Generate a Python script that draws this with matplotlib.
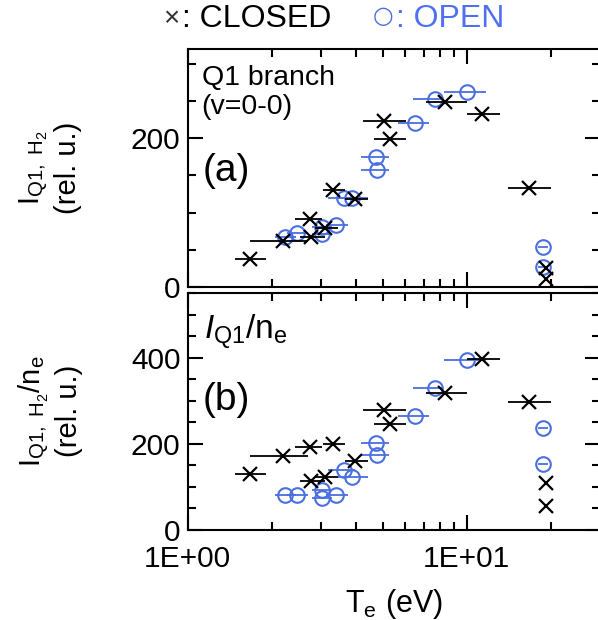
import matplotlib
matplotlib.use("Agg")
import matplotlib.pyplot as plt
import numpy as np
from matplotlib.ticker import FixedLocator, MultipleLocator, NullFormatter, FixedFormatter

plt.rcParams['font.family'] = ['Liberation Sans', 'DejaVu Sans']
plt.rcParams['mathtext.fontset'] = 'custom'
plt.rcParams['mathtext.rm'] = 'Liberation Sans'
plt.rcParams['mathtext.it'] = 'Liberation Sans:italic'
plt.rcParams['mathtext.bf'] = 'Liberation Sans:bold'

# ---- data ----
T_closed = [1.67, 2.20, 2.76, 2.74, 3.10, 3.33, 3.99, 5.04, 5.29, 8.39, 11.35, 16.75, 19.2, 19.2]
T_closed_lo = [1.48, 1.67, 2.52, 2.42, 2.85, 3.05, 3.66, 4.24, 4.67, 7.17, 9.98, 14.0, 19.2, 19.2]
T_closed_hi = [1.91, 2.70, 3.10, 3.02, 3.45, 3.66, 4.42, 6.07, 6.07, 9.98, 13.1, 20.0, 19.2, 19.2]
I_closed_a = [38, 61, 67, 91, 79, 130, 118, 223, 199, 249, 233, 133, 25, 11]
I_closed_b = [131, 173, 115, 194, 123, 199, 160, 279, 246, 319, 398, 298, 110, 56]

T_open = [2.23, 2.47, 3.04, 3.04, 3.41, 3.63, 3.89, 4.75, 4.77, 6.50, 7.67, 10.05, 18.7, 18.8]
T_open_lo = [2.05, 2.27, 2.79, 2.79, 3.13, 3.18, 3.45, 4.17, 4.17, 5.65, 6.40, 8.32, 17.95, 18.05]
T_open_hi = [2.44, 2.70, 3.29, 3.29, 3.75, 3.97, 4.42, 5.25, 5.25, 7.30, 8.19, 11.76, 19.5, 19.6]
I_open_a = [67, 72, 81, 71, 83, 119, 119, 175, 157, 221, 253, 262, 54, 27]
I_open_b = [81, 81, 94, 75, 81, 139, 123, 202, 175, 264, 329, 396, 236, 154]

x_major = [1, 10]
x_major_labels = ['1E+00', '1E+01']
x_minor = [2, 3, 4, 5, 6, 7, 8, 9, 20, 30]

BLUE = '#4a6fe0'
W, H = 598, 620
fig = plt.figure(figsize=(W / 100, H / 100), dpi=100)

left = 187.5 / W
right = 600.0 / W
ax_a = fig.add_axes([left, 1 - 286.7 / H, right - left, (286.7 - 49.3) / H])
ax_b = fig.add_axes([left, 1 - 530.0 / H, right - left, (530.0 - 293.3) / H])


def xerr(T, lo, hi):
    T = np.asarray(T); lo = np.asarray(lo); hi = np.asarray(hi)
    return np.vstack([T - lo, hi - T])


for ax, yc, yo, ylim, ymaj in [(ax_a, I_closed_a, I_open_a, 320, 200),
                                (ax_b, I_closed_b, I_open_b, 550, 200)]:
    ax.errorbar(T_closed, yc, xerr=xerr(T_closed, T_closed_lo, T_closed_hi),
                fmt='x', color='black', ms=10.5, mew=1.6, elinewidth=1.3, capsize=0, zorder=3)
    ax.errorbar(T_open, yo, xerr=xerr(T_open, T_open_lo, T_open_hi),
                fmt='o', color=BLUE, mfc='none', mec=BLUE, ms=10.5, mew=1.5,
                elinewidth=1.3, capsize=0, zorder=2)
    ax.set_xscale('log')
    ax.set_xlim(1, 30)
    ax.set_ylim(0, ylim)
    ax.xaxis.set_major_locator(FixedLocator(x_major))
    ax.xaxis.set_minor_locator(FixedLocator(x_minor))
    ax.xaxis.set_minor_formatter(NullFormatter())
    ax.yaxis.set_major_locator(MultipleLocator(ymaj))
    ax.yaxis.set_minor_locator(MultipleLocator(50))
    ax.tick_params(which='both', direction='in', top=True, right=True, width=1.5,
                   labelsize=21.5, pad=5)
    ax.tick_params(which='major', length=11)
    ax.tick_params(which='minor', length=6)
    for s in ax.spines.values():
        s.set_linewidth(1.5)

ax_a.xaxis.set_major_formatter(NullFormatter())
ax_b.xaxis.set_major_formatter(FixedFormatter(x_major_labels))
ax_b.tick_params(axis='x', pad=11)

ax_b.set_xlabel(r'$\mathrm{T_e}$ (eV)', fontsize=22, labelpad=10)

# y labels
fig.text(50 / W, 1 - 168 / H, '$\\mathrm{I}_{\\mathrm{Q1,\\ H_2}}$\n(rel. u.)',
         rotation=90, ha='center', va='center', fontsize=21, multialignment='center',
         linespacing=1.15)
fig.text(50 / W, 1 - 411 / H, '$\\mathrm{I}_{\\mathrm{Q1,\\ H_2}}\\mathrm{/n_e}$\n(rel. u.)',
         rotation=90, ha='center', va='center', fontsize=21, multialignment='center',
         linespacing=1.15)

# panel texts
ax_a.text(0.034, 0.850, 'Q1 branch', transform=ax_a.transAxes, fontsize=20.5, va='baseline')
ax_a.text(0.034, 0.727, '(v=0-0)', transform=ax_a.transAxes, fontsize=20.5, va='baseline')
ax_a.text(0.036, 0.445, '(a)', transform=ax_a.transAxes, fontsize=28, va='baseline')
ax_b.text(0.040, 0.803, r'$\mathit{I}_{\mathrm{Q1}}\mathrm{/n_e}$', transform=ax_b.transAxes,
          fontsize=24, va='baseline')
ax_b.text(0.036, 0.505, '(b)', transform=ax_b.transAxes, fontsize=28, va='baseline')

# legend header
ty = 1 - 19 / H
fig.text(163 / W, ty, '×', fontsize=20, color='#333333', va='center', ha='left')
fig.text(182 / W, ty, ': CLOSED', fontsize=23, color='black', va='center', ha='left')
fig.text(373 / W, 1 - 16 / H, '○', fontsize=17, color=BLUE, va='center', ha='left',
         family=['DejaVu Sans'])
fig.text(396 / W, ty, ': OPEN', fontsize=23, color='#5070f0', va='center', ha='left')

fig.savefig('out.png', dpi=100)
